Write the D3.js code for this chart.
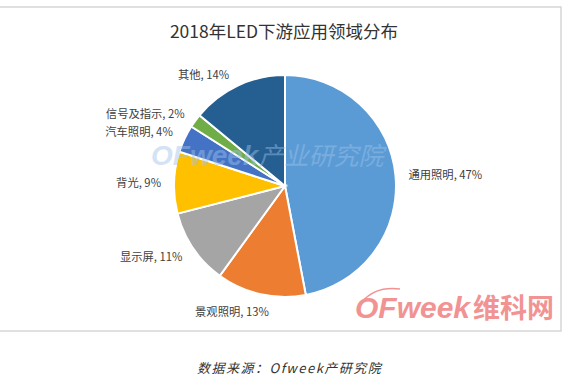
<!DOCTYPE html>
<html><head><meta charset="utf-8">
<script src="https://cdn.jsdelivr.net/npm/d3@7"></script>
<style>body{margin:0;background:#fff;}svg{display:block;}</style>
</head><body>
<svg id="c" width="567" height="383"></svg>
<script>
const categories = ["通用照明","景观照明","显示屏","背光","汽车照明","信号及指示","其他"];
const values = [47,13,11,9,4,2,14];
const colors = ["#5B9BD5","#ED7D31","#A5A5A5","#FFC000","#4472C4","#70AD47","#255E91"];
const title = "2018年LED下游应用领域分布";
const source = "数据来源：Ofweek产研究院";

const svg = d3.select("#c");
const cx = 285, cy = 186, R = 111;
const font = "'Noto Sans CJK SC','Microsoft YaHei',sans-serif";

// frame
svg.append("rect").attr("x",-2).attr("y",7).attr("width",563).attr("height",324)
  .attr("fill","none").attr("stroke","#d6d6d6").attr("stroke-width",1.5);

svg.append("text").attr("x",284).attr("y",38).attr("text-anchor","middle")
  .attr("font-family",font).attr("font-size",17.5).attr("fill","#333").text(title);

const data = categories.map((c,i)=>({name:c,value:values[i],color:colors[i]}));
const pie = d3.pie().value(d=>d.value).sort(null);
const arcs = pie(data);
const arc = d3.arc().innerRadius(0).outerRadius(R);
const g = svg.append("g").attr("transform",`translate(${cx},${cy})`);
g.selectAll("path").data(arcs).join("path").attr("d",arc)
  .attr("fill",d=>d.data.color).attr("stroke","#fff").attr("stroke-width",2);

const labelR = 124;
const lg = g.append("g");
arcs.forEach(a=>{
  const m = (a.startAngle+a.endAngle)/2;
  const s = Math.sin(m), c = Math.cos(m);
  let x = s*labelR, y = -c*labelR;
  let anchor = s > 0.3 ? "start" : (s < -0.3 ? "end" : "middle");
  if (anchor === "middle") { x -= 26; y += 4; }
  if (a.data.name === "其他") { x -= 3; }
  if (a.data.name === "汽车照明") { y -= 2; }
  lg.append("text").attr("x",x).attr("y",y).attr("text-anchor",anchor)
    .attr("dominant-baseline","central")
    .attr("font-family",font).attr("font-size",11.3).attr("fill","#404040")
    .text(a.data.name + ", " + a.data.value + "%");
});

// watermark
const wm = svg.append("text").attr("x",151).attr("y",165).attr("opacity",0.45)
  .attr("font-style","italic").attr("fill","#9ec3ea");
wm.append("tspan").attr("font-family","'Liberation Sans',Arial,sans-serif").attr("font-weight","bold").attr("font-size",28).text("OFweek");
wm.append("tspan").attr("font-family","'Noto Sans CJK SC',sans-serif").attr("font-size",25).text("产业研究院");

// logo
const logo = svg.append("g").attr("opacity",0.75);
logo.append("path").attr("d","M362,302 Q375,286 400,289").attr("fill","none").attr("stroke","#ee6f6f").attr("stroke-width",1.6);
const lt = logo.append("text").attr("x",355).attr("y",318).attr("fill","#ee6f6f");
lt.append("tspan").attr("font-family","'Liberation Sans',Arial,sans-serif").attr("font-weight","bold").attr("font-style","italic").attr("font-size",30).text("OFweek");
lt.append("tspan").attr("font-family","'Noto Sans CJK SC',sans-serif").attr("font-weight","bold").attr("font-size",27).attr("dx",3).text("维科网");

svg.append("text").attr("x",197).attr("y",373).attr("font-family","'Noto Sans CJK SC',sans-serif")
  .attr("font-style","italic").attr("font-size",13).attr("letter-spacing",1.5).attr("fill","#333").text(source);
</script>
</body></html>
